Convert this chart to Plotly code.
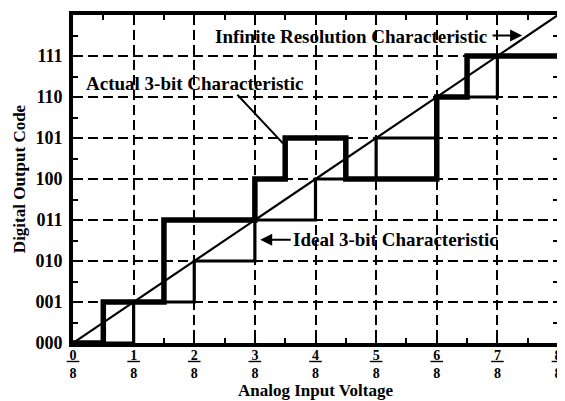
import plotly.graph_objects as go

# ---- data ----
x_eighths = [0, 1, 2, 3, 4, 5, 6, 7, 8]
x_tick_labels = ["0/8", "1/8", "2/8", "3/8", "4/8", "5/8", "6/8", "7/8", "8/8"]
y_codes = [0, 1, 2, 3, 4, 5, 6, 7]
y_tick_labels = ["000", "001", "010", "011", "100", "101", "110", "111"]

# ideal 3-bit staircase: transition points (in eighths) and code after each transition
ideal_x = [0, 1, 2, 3, 4, 5, 6, 7, 8]
ideal_code = [0, 1, 2, 3, 4, 5, 6, 7, 7]

# actual 3-bit staircase (missing code, non-monotonic)
actual_x = [0, 0.5, 1.5, 3, 3.5, 4.5, 6, 6.5, 8]
actual_code = [0, 1, 3, 4, 5, 4, 6, 7, 7]

# infinite resolution line
inf_x = [0, 8]
inf_code = [0, 8]

FONT = "Liberation Serif"

def frac(lbl):
    n, d = lbl.split("/")
    return "<u>\u2009" + n + "\u2009</u><br>" + d

fig = go.Figure()
fig.add_trace(go.Scatter(x=[v / 8 for v in inf_x], y=inf_code, mode="lines",
                         line=dict(color="black", width=2.2), hoverinfo="skip"))
fig.add_trace(go.Scatter(x=[v / 8 for v in ideal_x], y=ideal_code, mode="lines",
                         line=dict(color="black", width=3.2, shape="hv"), hoverinfo="skip"))
fig.add_trace(go.Scatter(x=[v / 8 for v in actual_x], y=actual_code, mode="lines",
                         line=dict(color="black", width=5.5, shape="hv"), hoverinfo="skip"))

tf = dict(family=FONT, size=19, color="black", weight="bold")
tiny = dict(size=1)

# text annotations
fig.add_annotation(x=0.573, y=7.48, text="Infinite Resolution Characteristic",
                   showarrow=False, font=tf)
fig.add_annotation(x=0.2515, y=6.33, text="Actual 3-bit Characteristic",
                   showarrow=False, font=tf)
fig.add_annotation(x=0.664, y=2.52, text="Ideal 3-bit Characteristic",
                   showarrow=False, font=tf)
# arrows / pointer
fig.add_annotation(x=0.926, y=7.5, ax=0.862, ay=7.5, axref="x", ayref="y", text="", font=tiny,
                   showarrow=True, arrowhead=2, arrowsize=1.2, arrowwidth=2, arrowcolor="black")
fig.add_annotation(x=0.433, y=4.87, ax=0.336, ay=6.09, axref="x", ayref="y", text="", font=tiny,
                   showarrow=True, arrowhead=0, arrowwidth=2, arrowcolor="black")
fig.add_annotation(x=0.386, y=2.52, ax=0.452, ay=2.52, axref="x", ayref="y", text="", font=tiny,
                   showarrow=True, arrowhead=2, arrowsize=1.2, arrowwidth=2, arrowcolor="black")

fig.update_xaxes(
    range=[0, 1], tickmode="array", automargin=False,
    tickvals=[v / 8 for v in x_eighths], ticktext=[frac(t) for t in x_tick_labels],
    ticks="inside", ticklen=5, tickwidth=2, tickcolor="black", ticklabelstandoff=-4,
    minor=dict(ticks="inside", dtick=1 / 16, tick0=0, ticklen=5, tickwidth=2, tickcolor="black", showgrid=False),
    showline=True, linewidth=4, linecolor="black", mirror="ticks",
    showgrid=True, gridcolor="black", gridwidth=2, griddash="10px,5px",
    zeroline=False, tickfont=dict(family=FONT, size=14, color="black", weight="bold"),
    title=dict(text="Analog Input Voltage", font=dict(family=FONT, size=17, color="black", weight="bold"), standoff=0),
)
fig.update_yaxes(
    range=[0, 8], tickmode="array", automargin=False,
    tickvals=y_codes, ticktext=y_tick_labels,
    ticks="inside", ticklen=5, tickwidth=2, tickcolor="black", ticklabelstandoff=3,
    minor=dict(ticks="inside", dtick=0.5, tick0=0, ticklen=5, tickwidth=2, tickcolor="black", showgrid=False),
    showline=True, linewidth=4, linecolor="black", mirror="ticks",
    showgrid=True, gridcolor="black", gridwidth=2, griddash="10px,5px",
    zeroline=False, tickfont=dict(family=FONT, size=18, color="black", weight="bold"),
    title=dict(text="Digital Output Code", font=dict(family=FONT, size=17, color="black", weight="bold"), standoff=6),
)

# page body has an 8px default margin, so the figure is sized to fit the window
fig.update_layout(
    width=557, height=393,
    margin=dict(l=65, r=7, t=7, b=58),
    paper_bgcolor="white", plot_bgcolor="white",
    showlegend=False,
    font=dict(family=FONT, color="black"),
)

fig.write_html("out.html")
